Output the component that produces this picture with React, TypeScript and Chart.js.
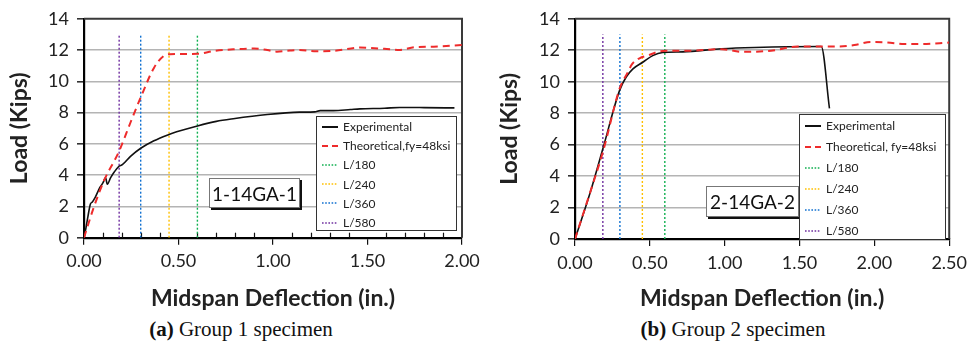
import React, { useEffect, useRef } from 'react';
import { Chart, registerables } from 'chart.js';

Chart.register(...registerables);

// ---------- DATA ----------
// Group 1 (1-14GA-1)
const G1_EXP_X = [0, 0.01, 0.02, 0.034, 0.043, 0.06, 0.084, 0.1, 0.114, 0.123, 0.141, 0.16, 0.185, 0.203, 0.246, 0.3, 0.37, 0.44, 0.49, 0.6, 0.7, 0.79, 0.97, 1.14, 1.22, 1.25, 1.32, 1.41, 1.46, 1.59, 1.67, 1.8, 1.96];
const G1_EXP_Y = [0, 0.6, 1.3, 2.16, 2.27, 2.6, 3.21, 3.5, 3.84, 3.42, 3.84, 4.2, 4.57, 4.67, 5.2, 5.72, 6.2, 6.56, 6.77, 7.15, 7.44, 7.61, 7.88, 8.03, 8.05, 8.13, 8.13, 8.2, 8.24, 8.28, 8.33, 8.32, 8.3];
const G1_THEO_X = [0, 0.052, 0.105, 0.185, 0.247, 0.3, 0.37, 0.42, 0.454, 0.6, 0.69, 0.79, 0.9, 0.97, 1.02, 1.09, 1.14, 1.23, 1.32, 1.46, 1.59, 1.67, 1.75, 1.85, 2.0];
const G1_THEO_Y = [0, 1.95, 3.63, 5.51, 7.4, 8.97, 10.86, 11.6, 11.74, 11.76, 11.95, 12.05, 12.1, 12.0, 11.9, 11.97, 12.0, 11.93, 11.95, 12.16, 12.08, 12.01, 12.19, 12.22, 12.33];

// Group 2 (2-14GA-2)
const G2_EXP_X = [0, 0.099, 0.188, 0.298, 0.342, 0.387, 0.453, 0.519, 0.585, 0.72, 0.98, 1.2, 1.645, 1.7];
const G2_EXP_Y = [0, 2.87, 5.8, 9.45, 10.3, 10.82, 11.24, 11.66, 11.86, 11.9, 12.1, 12.18, 12.24, 8.3];
const G2_THEO_X = [0, 0.099, 0.188, 0.298, 0.353, 0.38, 0.431, 0.486, 0.541, 0.607, 0.76, 0.98, 1.115, 1.31, 1.49, 1.645, 1.756, 1.866, 1.977, 2.087, 2.2, 2.31, 2.5];
const G2_THEO_Y = [0, 2.9, 5.59, 9.56, 10.6, 11.1, 11.49, 11.66, 11.86, 11.97, 11.97, 12.07, 11.9, 11.97, 12.24, 12.24, 12.24, 12.33, 12.53, 12.5, 12.39, 12.39, 12.49];

// Deflection limits (vertical lines)
const LIMIT_LABELS = ['L/180', 'L/240', 'L/360', 'L/580'];
const LIMIT_X = [0.6, 0.45, 0.3, 0.186];
const LIMIT_TOP = 13;

const G1_SERIES_LABELS = ['Experimental', 'Theoretical,fy=48ksi'];
const G2_SERIES_LABELS = ['Experimental', 'Theoretical, fy=48ksi'];
const SPECIMENS = ['1-14GA-1', '2-14GA-2'];
const X_MAX = [2.0, 2.5];
const Y_MAX = 14;
const CAPTION_TAGS = ['(a)', '(b)'];
const CAPTION_TEXTS = [' Group 1 specimen', ' Group 2 specimen'];
const X_TITLE = 'Midspan Deflection (in.)';
const Y_TITLE = 'Load (Kips)';

// ---------- STYLES ----------
const LIMIT_COLORS = ['#10b050', '#ffc000', '#1070d0', '#7030a0'];
const EXP_COLOR = '#111111';
const THEO_COLOR = '#ee2b2b';
const SANS = 'Lato, "Open Sans", sans-serif';
const CANVAS_H = 312;

const zip = (xs: number[], ys: number[]) => xs.map((x, i) => ({ x, y: ys[i] }));

const framePlugin = {
  id: 'frameTicks',
  beforeDatasetsDraw(chart: any, _args: any, opts: any) {
    const { ctx, chartArea: a, scales } = chart;
    ctx.save();
    ctx.strokeStyle = '#3a3a3a';
    ctx.lineWidth = 2;
    ctx.beginPath();
    ctx.moveTo(a.left, a.top);
    ctx.lineTo(a.right, a.top);
    ctx.lineTo(a.right, a.bottom);
    ctx.stroke();
    if (opts && opts.minor) {
      ctx.strokeStyle = '#111';
      ctx.lineWidth = 1.2;
      const xmax = scales.x.max;
      for (let k = 1; k * 0.1 < xmax - 1e-9; k++) {
        if (k % 5 === 0) continue;
        const px = Math.round(scales.x.getPixelForValue(k * 0.1)) + 0.5;
        ctx.beginPath();
        ctx.moveTo(px, a.bottom);
        ctx.lineTo(px, a.bottom - 5);
        ctx.stroke();
      }
    }
    ctx.restore();
  },
};

type Cfg = {
  expX: number[]; expY: number[]; theoX: number[]; theoY: number[];
  labels: string[]; xMax: number; yAxisWidth: number; padRight: number; padTop: number;
  xAxisHeight: number; minor: boolean;
};

function makeConfig(c: Cfg): any {
  const datasets: any[] = [
    {
      label: c.labels[0], data: zip(c.expX, c.expY), borderColor: EXP_COLOR, borderWidth: 1.6,
      pointRadius: 0, fill: false, cubicInterpolationMode: 'monotone', order: 1,
    },
    {
      label: c.labels[1], data: zip(c.theoX, c.theoY), borderColor: THEO_COLOR, borderWidth: 2,
      borderDash: [7, 5], pointRadius: 0, fill: false, cubicInterpolationMode: 'monotone', order: 0,
    },
  ];
  LIMIT_LABELS.forEach((lab, i) => {
    datasets.push({
      label: lab, data: [{ x: LIMIT_X[i], y: 0 }, { x: LIMIT_X[i], y: LIMIT_TOP }],
      borderColor: LIMIT_COLORS[i], borderWidth: 1.4, borderDash: [2, 2], pointRadius: 0,
      fill: false, order: 2,
    });
  });
  return {
    type: 'line',
    data: { datasets },
    plugins: [framePlugin],
    options: {
      responsive: false,
      animation: false,
      events: [],
      layout: { padding: { left: 0, right: c.padRight, top: c.padTop, bottom: 0 } },
      plugins: {
        legend: { display: false },
        tooltip: { enabled: false },
        frameTicks: { minor: c.minor },
      },
      scales: {
        x: {
          type: 'linear', min: 0, max: c.xMax,
          afterFit: (s: any) => { s.height = c.xAxisHeight; },
          border: { display: true, color: '#000', width: 2.2 },
          grid: { drawOnChartArea: false, drawTicks: true, tickLength: 7, tickColor: '#111', lineWidth: 1.2 },
          ticks: {
            stepSize: 0.5, padding: 6, maxRotation: 0, color: '#222',
            font: { family: SANS, size: 18 },
            callback: (v: any) => Number(v).toFixed(2),
          },
          title: {
            display: true, text: X_TITLE, color: '#222',
            font: { family: SANS, size: 23, weight: 'bold' }, padding: { top: 0, bottom: 0 },
          },
        },
        y: {
          type: 'linear', min: 0, max: Y_MAX,
          afterFit: (s: any) => { s.width = c.yAxisWidth; },
          border: { display: true, color: '#000', width: 2.2 },
          grid: {
            color: (ctx: any) => (ctx.tick && (ctx.tick.value === 0 || ctx.tick.value === Y_MAX) ? 'rgba(0,0,0,0)' : '#b4b4b4'),
            lineWidth: 1.6, tickLength: 7, tickColor: '#333',
          },
          ticks: { stepSize: 2, padding: 8, color: '#222', font: { family: SANS, size: 18 } },
          title: {
            display: true, text: Y_TITLE, color: '#222',
            font: { family: SANS, size: 23, weight: 'bold' }, padding: { top: 6, bottom: 0 },
          },
        },
      },
    },
  };
}

function ChartCanvas({ cfg, width, height, left }: { cfg: Cfg; width: number; height: number; left: number }) {
  const ref = useRef<HTMLCanvasElement | null>(null);
  useEffect(() => {
    if (!ref.current) return;
    const chart = new Chart(ref.current, makeConfig(cfg));
    return () => chart.destroy();
  }, []);
  return (
    <canvas
      ref={ref}
      width={width}
      height={height}
      style={{ position: 'absolute', left, top: 0, width, height }}
    />
  );
}

function Sample({ kind, color }: { kind: 'solid' | 'dash' | 'dot'; color: string }) {
  const dash = kind === 'solid' ? undefined : kind === 'dash' ? '6,4' : '1.6,1.6';
  return (
    <svg width={16} height={6} style={{ display: 'block', flex: '0 0 auto' }}>
      <line x1={0} y1={3} x2={16} y2={3} stroke={color} strokeWidth={kind === 'dot' ? 1.6 : 2} strokeDasharray={dash} />
    </svg>
  );
}

function Legend({ labels, left, top, width, height, rowH, padTop }: { labels: string[]; left: number; top: number; width: number; height: number; rowH: number; padTop: number }) {
  const items = [
    { label: labels[0], kind: 'solid' as const, color: EXP_COLOR },
    { label: labels[1], kind: 'dash' as const, color: THEO_COLOR },
    ...LIMIT_LABELS.map((l, i) => ({ label: l, kind: 'dot' as const, color: LIMIT_COLORS[i] })),
  ];
  return (
    <div
      style={{
        position: 'absolute', left, top, width, height, boxSizing: 'border-box',
        background: '#fff', border: '1.5px solid #333', paddingTop: padTop, paddingLeft: 5,
        fontFamily: SANS, fontSize: 12, color: '#222',
      }}
    >
      {items.map((it) => (
        <div key={it.label} style={{ display: 'flex', alignItems: 'center', height: rowH, gap: 5, whiteSpace: 'nowrap' }}>
          <Sample kind={it.kind} color={it.color} />
          <span>{it.label}</span>
        </div>
      ))}
    </div>
  );
}

function LabelBox({ text, left, top, width, height }: { text: string; left: number; top: number; width: number; height: number }) {
  return (
    <div
      style={{
        position: 'absolute', left, top, width, height, boxSizing: 'border-box',
        background: '#fff', border: '1px solid #777', boxShadow: '2px 2px 0 #111',
        display: 'flex', alignItems: 'center', justifyContent: 'center', whiteSpace: 'nowrap',
        fontFamily: SANS, fontSize: 19, color: '#111',
      }}
    >
      {text}
    </div>
  );
}

function Caption({ i, center }: { i: number; center: number }) {
  return (
    <div
      style={{
        position: 'absolute', left: center, top: 316, transform: 'translateX(-50%)',
        fontFamily: '"Liberation Serif", "Times New Roman", serif', fontSize: 21, lineHeight: '26px',
        whiteSpace: 'pre', color: '#111',
      }}
    >
      <b>{CAPTION_TAGS[i]}</b>
      {CAPTION_TEXTS[i]}
    </div>
  );
}

export default function App() {
  const cfg1: Cfg = {
    expX: G1_EXP_X, expY: G1_EXP_Y, theoX: G1_THEO_X, theoY: G1_THEO_Y, labels: G1_SERIES_LABELS,
    xMax: X_MAX[0], yAxisWidth: 84, padRight: 28, padTop: 15, xAxisHeight: CANVAS_H - 237.7, minor: true,
  };
  const cfg2: Cfg = {
    expX: G2_EXP_X, expY: G2_EXP_Y, theoX: G2_THEO_X, theoY: G2_THEO_Y, labels: G2_SERIES_LABELS,
    xMax: X_MAX[1], yAxisWidth: 85, padRight: 21, padTop: 16, xAxisHeight: CANVAS_H - 239, minor: false,
  };
  return (
    <div style={{ position: 'absolute', left: 0, top: 0, width: 973, height: 350, background: '#fff', overflow: 'hidden' }}>
      <ChartCanvas cfg={cfg1} width={490} height={CANVAS_H} left={0} />
      <ChartCanvas cfg={cfg2} width={483} height={CANVAS_H} left={490} />
      <LabelBox text={SPECIMENS[0]} left={209} top={178} width={91} height={30} />
      <Legend labels={G1_SERIES_LABELS} left={316} top={116} width={141} height={115} rowH={19.2} padTop={0} />
      <LabelBox text={SPECIMENS[1]} left={706} top={186} width={93} height={31} />
      <Legend labels={G2_SERIES_LABELS} left={799} top={114} width={147} height={126} rowH={21} padTop={0} />
      <Caption i={0} center={241} />
      <Caption i={1} center={733} />
    </div>
  );
}
